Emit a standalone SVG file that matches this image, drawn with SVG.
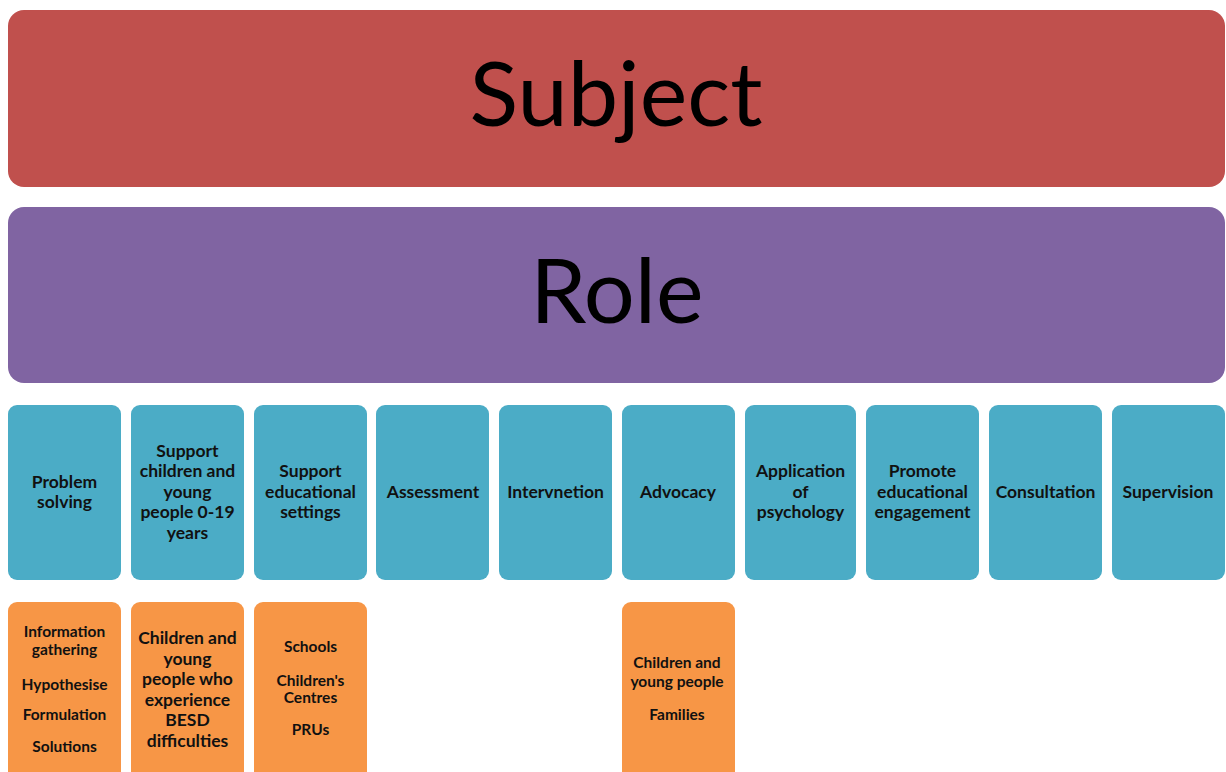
<svg xmlns="http://www.w3.org/2000/svg" width="1226" height="772" viewBox="0 0 1226 772">
  <style>
    .big { font-family: Lato, "Noto Sans", sans-serif; font-size: 90px; fill: #000; text-anchor: middle; }
    .lbl { font-family: Lato, "Noto Sans", sans-serif; font-weight: bold; font-size: 17.5px; fill: #111; text-anchor: middle; }
    .sm { font-family: Lato, "Noto Sans", sans-serif; font-weight: bold; font-size: 15.5px; fill: #111; text-anchor: middle; }
    .md { font-family: Lato, "Noto Sans", sans-serif; font-weight: bold; font-size: 17.5px; fill: #111; text-anchor: middle; }
    .red { fill: #C0504D; }
    .purple { fill: #8064A2; }
    .blue { fill: #4BACC6; }
    .orange { fill: #F79646; }
  </style>
  <rect width="1226" height="772" fill="#fff"/>

  <g id="subject">
    <rect class="red" x="8" y="10" width="1217" height="177" rx="16"/>
    <text class="big" x="616" y="126">Subject</text>
  </g>
  <g id="role">
    <rect class="purple" x="8" y="207" width="1217" height="176" rx="16"/>
    <text class="big" x="617" y="323">Role</text>
  </g>

  <g id="problem-solving">
    <rect class="blue" x="8" y="405" width="113" height="175" rx="9"/>
    <text class="lbl" x="64.5" y="488">Problem</text>
    <text class="lbl" x="64.5" y="508">solving</text>
  </g>
  <g id="support-cyp">
    <rect class="blue" x="131" y="405" width="113" height="175" rx="9"/>
    <text class="lbl" x="187.5" y="457">Support</text>
    <text class="lbl" x="187.5" y="477">children and</text>
    <text class="lbl" x="187.5" y="498">young</text>
    <text class="lbl" x="187.5" y="518">people 0-19</text>
    <text class="lbl" x="187.5" y="539">years</text>
  </g>
  <g id="support-settings">
    <rect class="blue" x="254" y="405" width="113" height="175" rx="9"/>
    <text class="lbl" x="310.5" y="477">Support</text>
    <text class="lbl" x="310.5" y="498">educational</text>
    <text class="lbl" x="310.5" y="518">settings</text>
  </g>
  <g id="assessment">
    <rect class="blue" x="376" y="405" width="113" height="175" rx="9"/>
    <text class="lbl" x="433" y="498">Assessment</text>
  </g>
  <g id="intervention">
    <rect class="blue" x="499" y="405" width="113" height="175" rx="9"/>
    <text class="lbl" x="555.5" y="498">Intervnetion</text>
  </g>
  <g id="advocacy">
    <rect class="blue" x="622" y="405" width="113" height="175" rx="9"/>
    <text class="lbl" x="678" y="498">Advocacy</text>
  </g>
  <g id="application">
    <rect class="blue" x="745" y="405" width="111" height="175" rx="9"/>
    <text class="lbl" x="800.5" y="477">Application</text>
    <text class="lbl" x="800.5" y="498">of</text>
    <text class="lbl" x="800.5" y="518">psychology</text>
  </g>
  <g id="promote">
    <rect class="blue" x="866" y="405" width="113" height="175" rx="9"/>
    <text class="lbl" x="922.5" y="477">Promote</text>
    <text class="lbl" x="922.5" y="498">educational</text>
    <text class="lbl" x="922.5" y="518">engagement</text>
  </g>
  <g id="consultation">
    <rect class="blue" x="989" y="405" width="113" height="175" rx="9"/>
    <text class="lbl" x="1045.5" y="498">Consultation</text>
  </g>
  <g id="supervision">
    <rect class="blue" x="1112" y="405" width="113" height="175" rx="9"/>
    <text class="lbl" x="1168" y="498">Supervision</text>
  </g>

  <g id="problem-solving-detail">
    <rect class="orange" x="8" y="602" width="113" height="185" rx="9"/>
    <text class="sm" x="64.5" y="637">Information</text>
    <text class="sm" x="64.5" y="655">gathering</text>
    <text class="sm" x="64.5" y="690">Hypothesise</text>
    <text class="sm" x="64.5" y="720">Formulation</text>
    <text class="sm" x="64.5" y="752">Solutions</text>
  </g>
  <g id="support-cyp-detail">
    <rect class="orange" x="131" y="602" width="113" height="185" rx="9"/>
    <text class="md" x="187.5" y="644">Children and</text>
    <text class="md" x="187.5" y="665">young</text>
    <text class="md" x="187.5" y="685">people who</text>
    <text class="md" x="187.5" y="706">experience</text>
    <text class="md" x="187.5" y="726">BESD</text>
    <text class="md" x="187.5" y="747">difficulties</text>
  </g>
  <g id="support-settings-detail">
    <rect class="orange" x="254" y="602" width="113" height="185" rx="9"/>
    <text class="sm" x="310.5" y="652">Schools</text>
    <text class="sm" x="310.5" y="686">Children's</text>
    <text class="sm" x="310.5" y="703">Centres</text>
    <text class="sm" x="310.5" y="735">PRUs</text>
  </g>
  <g id="advocacy-detail">
    <rect class="orange" x="622" y="602" width="113" height="185" rx="9"/>
    <text class="sm" x="677" y="668">Children and</text>
    <text class="sm" x="677" y="687">young people</text>
    <text class="sm" x="677" y="720">Families</text>
  </g>

  <g id="connectors"/>
</svg>
